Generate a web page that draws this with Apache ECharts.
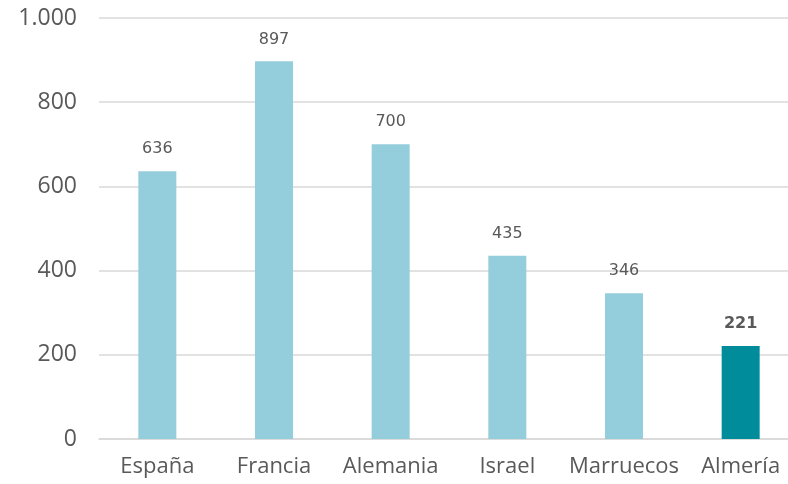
<!DOCTYPE html>
<html>
<head>
<meta charset="utf-8">
<script src="https://cdn.jsdelivr.net/npm/echarts@6/dist/echarts.min.js"></script>
<style>
  html, body { margin: 0; padding: 0; background: #fff; overflow: hidden; }
  #chart { width: 800px; height: 484px; }
</style>
</head>
<body>
<div id="chart"></div>
<script>
// Categories and values
const categories = ['España', 'Francia', 'Alemania', 'Israel', 'Marruecos', 'Almería'];
const values = [636, 897, 700, 435, 346, 221];
const highlighted = ['Almería'];
const yTicks = [0, 200, 400, 600, 800, 1000];

const lightBlue = '#94CEDC';
const teal = '#008C9A';

const chart = echarts.init(document.getElementById('chart'));

const fmtThousands = v => String(v).replace(/\B(?=(\d{3})+(?!\d))/g, '.');

chart.setOption({
  animation: false,
  grid: { left: 99, width: 700, top: 18, height: 421, containLabel: false },
  xAxis: {
    type: 'category',
    data: categories,
    axisTick: { show: false },
    axisLine: { lineStyle: { color: '#d9d9d9', width: 1.5 } },
    axisLabel: {
      interval: 0,
      color: '#595959',
      fontFamily: 'Open Sans',
      fontSize: 22,
      margin: 17
    }
  },
  yAxis: {
    type: 'value',
    min: yTicks[0],
    max: yTicks[yTicks.length - 1],
    interval: 200,
    axisLine: { show: false },
    axisTick: { show: false },
    splitLine: { lineStyle: { color: '#d9d9d9', width: 1.5 } },
    axisLabel: {
      color: '#595959',
      fontFamily: 'Open Sans',
      fontSize: 23,
      margin: 22,
      formatter: fmtThousands
    }
  },
  series: [{
    type: 'bar',
    barWidth: 38,
    data: categories.map((c, i) => {
      const hl = highlighted.includes(c);
      return {
        value: values[i],
        itemStyle: { color: hl ? teal : lightBlue },
        label: {
          fontWeight: hl ? 'bold' : 'normal'
        }
      };
    }),
    label: {
      show: true,
      position: 'top',
      distance: 14,
      color: '#595959',
      fontFamily: 'DejaVu Sans',
      fontSize: 16
    }
  }]
});
</script>
</body>
</html>
